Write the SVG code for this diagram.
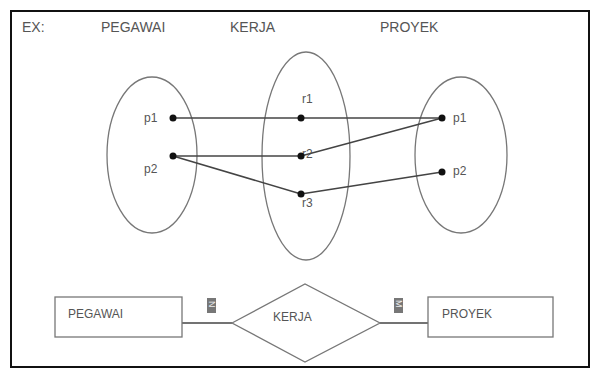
<svg xmlns="http://www.w3.org/2000/svg" width="595" height="375" viewBox="0 0 595 375">
<style>
text{font-family:"Liberation Sans","DejaVu Sans",sans-serif;fill:#555}
.h{font-size:14px}
.s{font-size:12px}
.e{font-size:12px}
.shape{fill:none;stroke:#777;stroke-width:1.3}
.c{stroke:#444;stroke-width:1.5;fill:none}
.d{fill:#111}
.card{fill:#777}
.cardt{font-size:9px;fill:#eee}
</style>
<rect width="595" height="375" fill="#fff"/>
<rect x="11" y="11" width="578" height="356" fill="none" stroke="#111" stroke-width="2"/>
<text class="h" x="22" y="32">EX:</text>
<text class="h" x="101" y="32">PEGAWAI</text>
<text class="h" x="230" y="32">KERJA</text>
<text class="h" x="380" y="32">PROYEK</text>
<g id="set-pegawai">
<ellipse class="shape" cx="152" cy="155" rx="45" ry="78"/>
<text class="s" x="144" y="122">p1</text>
<text class="s" x="144" y="173">p2</text>
</g>
<g id="set-kerja">
<ellipse class="shape" cx="306" cy="156" rx="44" ry="104"/>
<text class="s" x="302" y="103">r1</text>
<text class="s" x="302" y="158">r2</text>
<text class="s" x="302" y="207">r3</text>
</g>
<g id="set-proyek">
<ellipse class="shape" cx="461" cy="155" rx="46" ry="78"/>
<text class="s" x="453" y="122">p1</text>
<text class="s" x="453" y="175">p2</text>
</g>
<g id="connectors">
<line class="c" x1="173" y1="118" x2="442" y2="118"/>
<line class="c" x1="173" y1="156" x2="301" y2="156"/>
<line class="c" x1="173" y1="156" x2="301" y2="194"/>
<line class="c" x1="301" y1="156" x2="442" y2="118"/>
<line class="c" x1="301" y1="194" x2="442" y2="172"/>
<line class="c" x1="182" y1="323" x2="232" y2="323"/>
<line class="c" x1="380" y1="323" x2="428" y2="323"/>
</g>
<g id="dots">
<circle class="d" cx="173" cy="118" r="3.5"/>
<circle class="d" cx="173" cy="156" r="3.5"/>
<circle class="d" cx="301" cy="118" r="3.5"/>
<circle class="d" cx="301" cy="156" r="3.5"/>
<circle class="d" cx="301" cy="194" r="3.5"/>
<circle class="d" cx="442" cy="118" r="3.5"/>
<circle class="d" cx="442" cy="172" r="3.5"/>
</g>
<g id="entity-pegawai">
<rect class="shape" x="55" y="297" width="127" height="40"/>
<text class="e" x="68" y="318">PEGAWAI</text>
</g>
<g id="relation-kerja">
<polygon class="shape" points="232,323 305,284 380,323 305,362"/>
<text class="e" x="273" y="321">KERJA</text>
</g>
<g id="entity-proyek">
<rect class="shape" x="428" y="297" width="125" height="40"/>
<text class="e" x="442" y="318">PROYEK</text>
</g>
<g id="cardinality">
<rect class="card" x="207" y="298" width="9" height="15"/>
<text class="cardt" transform="translate(208.5,301) rotate(90)">N</text>
<rect class="card" x="394" y="298" width="9" height="15"/>
<text class="cardt" transform="translate(395.5,300) rotate(90)">M</text>
</g>
</svg>
